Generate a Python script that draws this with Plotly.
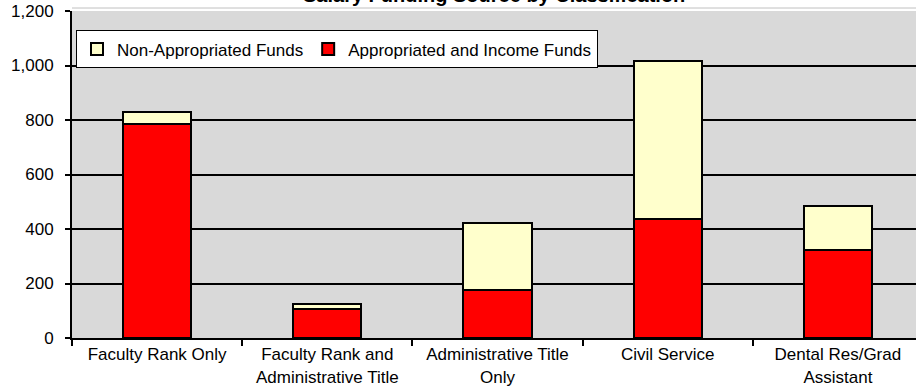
import plotly.graph_objects as go

# Employee counts by classification, split by salary funding source
categories = [
    "Faculty Rank Only",
    "Faculty Rank and<br>Administrative Title",
    "Administrative Title<br>Only",
    "Civil Service",
    "Dental Res/Grad<br>Assistant",
]
appropriated_income = [785, 105, 175, 438, 322]
non_appropriated = [45, 20, 247, 580, 163]

y_ticks = [0, 200, 400, 600, 800, 1000, 1200]

FONT = "Liberation Sans, Arial, sans-serif"

fig = go.Figure()
fig.add_trace(go.Bar(
    x=categories, y=appropriated_income,
    name="Appropriated and Income Funds",
    marker=dict(color="#FF0000", line=dict(color="black", width=2)),
    width=0.4,
))
fig.add_trace(go.Bar(
    x=categories, y=non_appropriated,
    name="Non-Appropriated Funds",
    marker=dict(color="#FFFFCC", line=dict(color="black", width=2)),
    width=0.4,
))

fig.update_layout(
    width=916, height=392, autosize=False,
    barmode="stack",
    margin=dict(l=72, r=0, t=11, b=53.5, pad=0),
    paper_bgcolor="white",
    plot_bgcolor="#D9D9D9",
    font=dict(family=FONT, size=17, color="black"),
    showlegend=True,
    legend=dict(
        orientation="h",
        traceorder="reversed",
        x=4 / 844, xanchor="left",
        y=(338.5 - 30.5) / 327.5, yanchor="top",
        bgcolor="white", bordercolor="black", borderwidth=1,
        font=dict(family=FONT, size=17, color="black"),
    ),
    xaxis=dict(
        range=[-0.5, 4.459],
        showline=True, linecolor="black", linewidth=2,
        ticks="outside", tickson="boundaries", ticklen=6, tickwidth=2, tickcolor="black",
        showgrid=False,
        tickfont=dict(family=FONT, size=17, color="black"),
        fixedrange=True,
    ),
    yaxis=dict(
        range=[0, 1200],
        tickvals=y_ticks,
        tickformat=",d",
        showline=True, linecolor="black", linewidth=2,
        ticks="outside", ticklen=5, tickwidth=2, tickcolor="black",
        showgrid=True, gridcolor="black", gridwidth=2,
        zeroline=False,
        tickfont=dict(family=FONT, size=17, color="black"),
        ticklabelstandoff=8,
        fixedrange=True,
    ),
    shapes=[
        dict(type="line", xref="paper", yref="paper",
             x0=0, x1=1, y0=1 + 3 / 327.5, y1=1 + 3 / 327.5,
             line=dict(color="#C0C0C0", width=1)),
    ],
    annotations=[
        dict(text="<b>Salary Funding Source by Classification</b>",
             xref="paper", yref="paper",
             x=0.5, y=1 + 16 / 327.5, xanchor="center", yanchor="middle",
             showarrow=False,
             font=dict(family=FONT, size=20, color="black")),
    ],
)

fig.write_html("out.html")
